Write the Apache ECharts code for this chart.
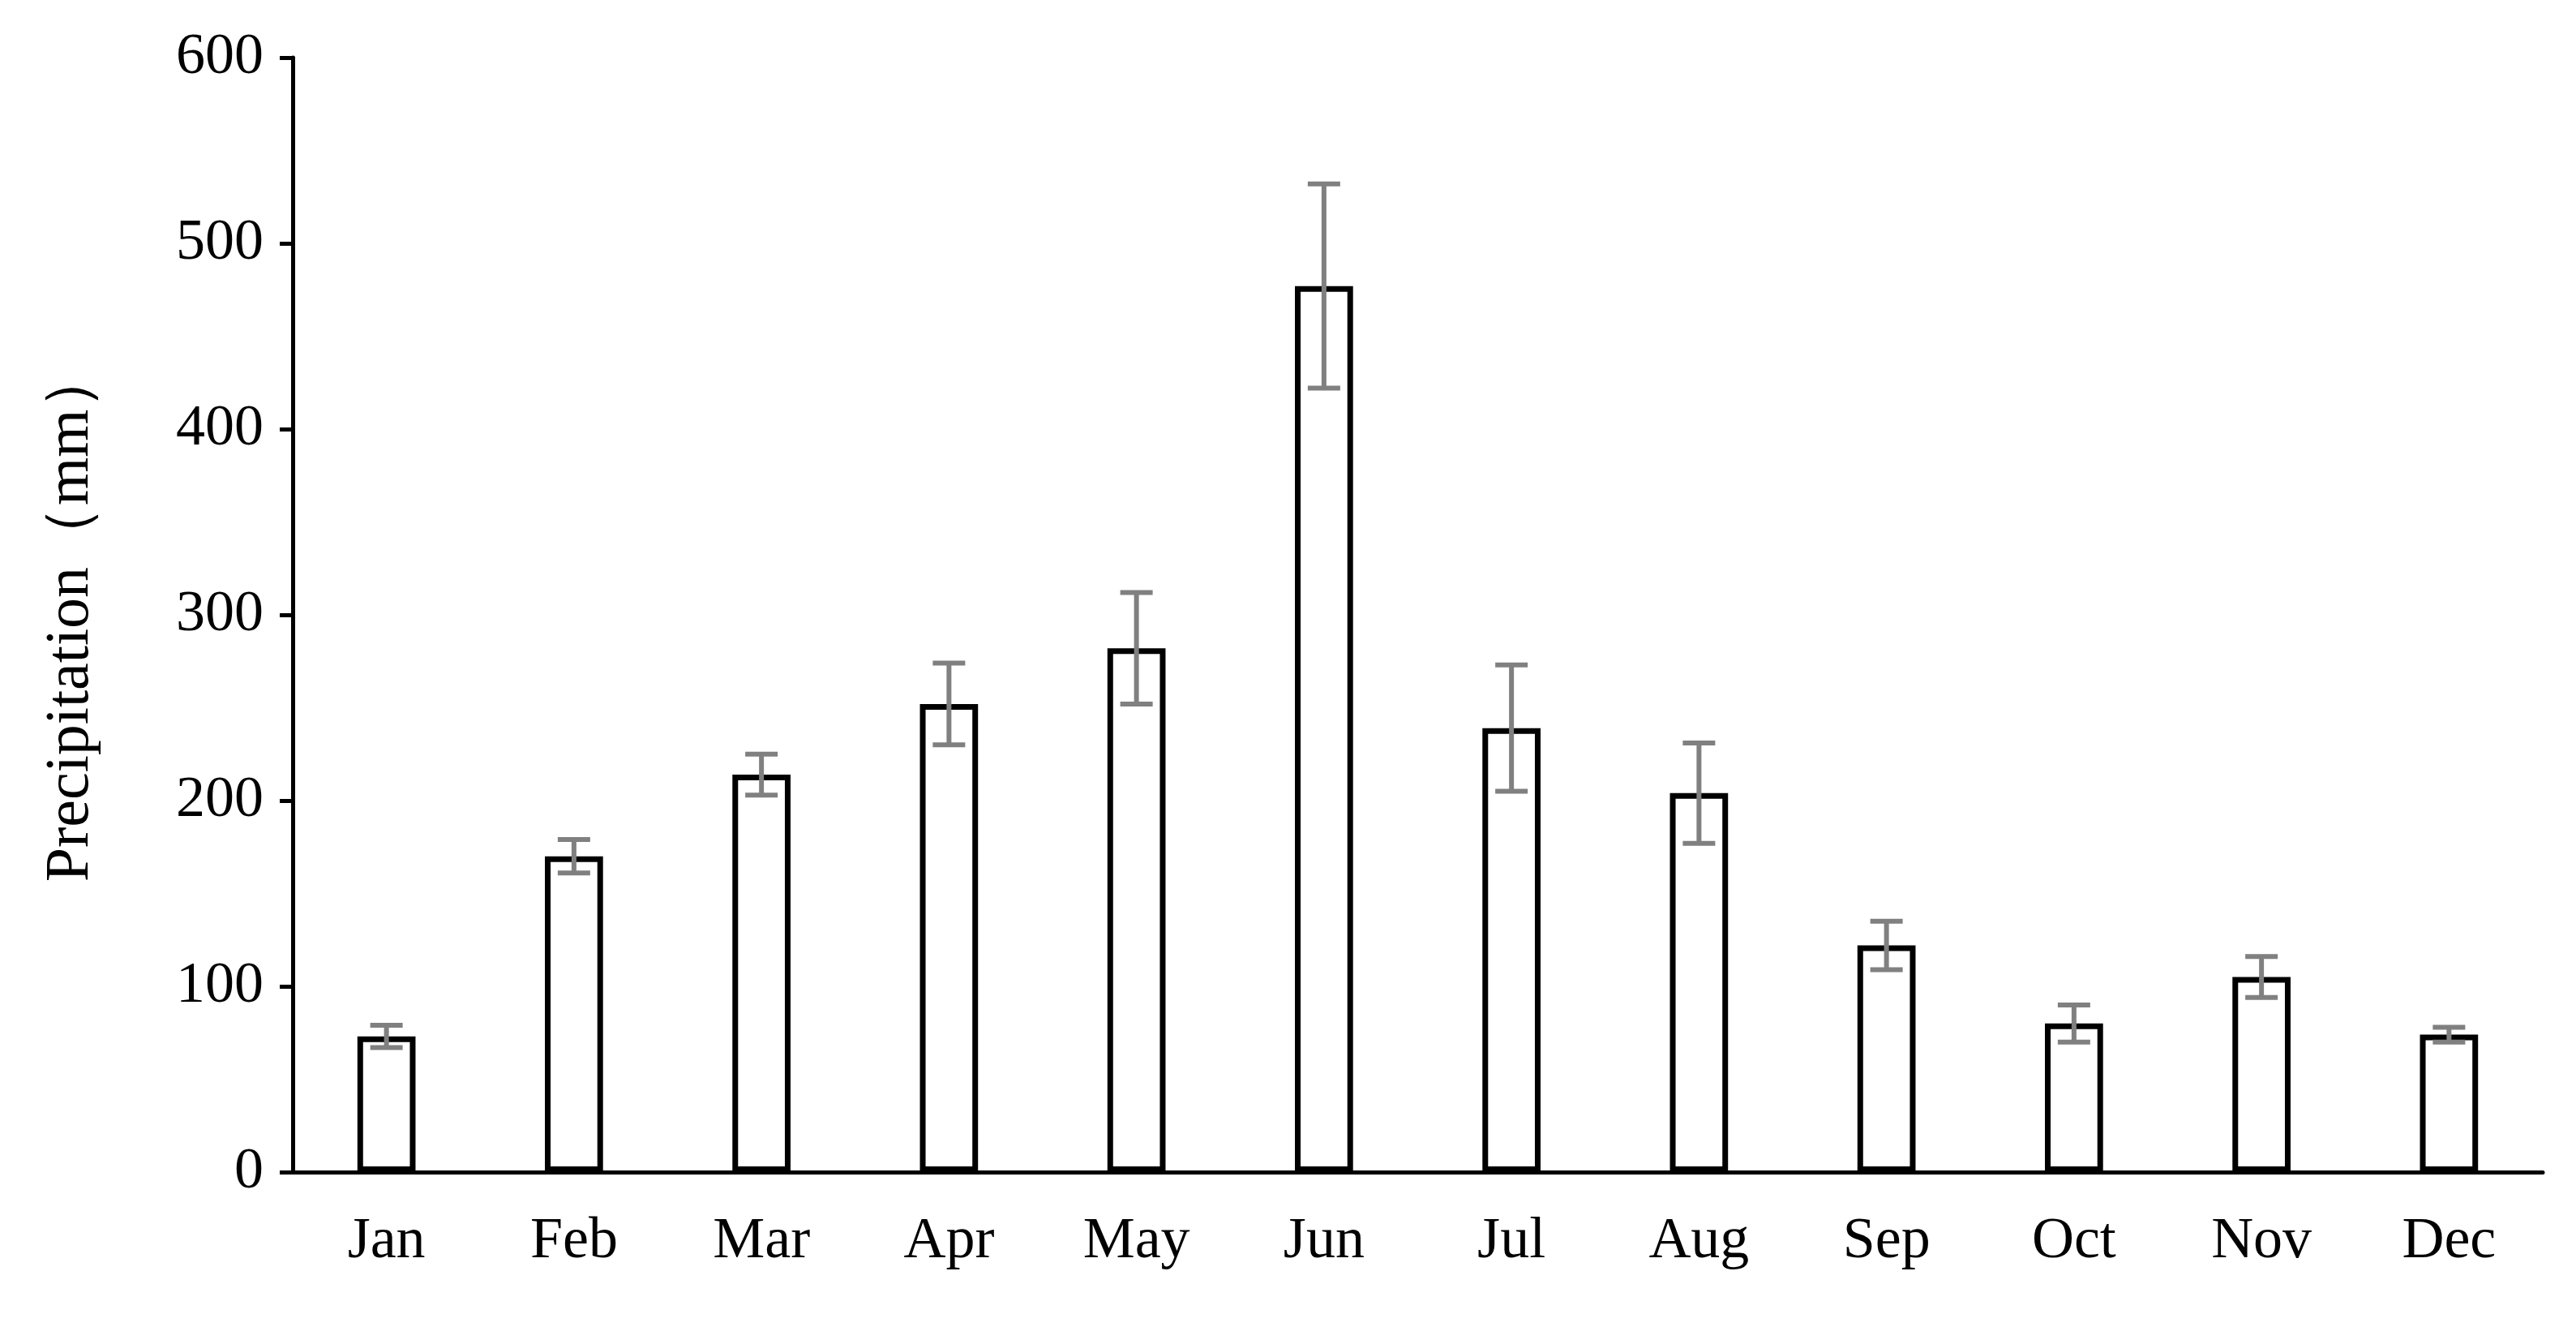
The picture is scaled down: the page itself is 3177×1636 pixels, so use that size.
<!DOCTYPE html>
<html>
<head>
<meta charset="utf-8">
<script src="https://cdn.jsdelivr.net/npm/echarts@6/dist/echarts.min.js"></script>
<style>html,body{margin:0;padding:0;background:#fff;}#main{width:3177px;height:1636px;}</style>
</head>
<body>
<div id="main"></div>
<script>
var months = ['Jan','Feb','Mar','Apr','May','Jun','Jul','Aug','Sep','Oct','Nov','Dec'];
var precip = [73, 170, 214, 252, 282, 477, 239, 204, 122, 80, 105, 74];
var errs = [6, 9, 11, 22, 30, 55, 34, 27, 13, 10, 11, 4];
var yTicks = [0, 100, 200, 300, 400, 500, 600];

var chart = echarts.init(document.getElementById('main'));
var font = 'Liberation Serif';
var errData = months.map(function (m, i) {
    return [i, precip[i] - errs[i], precip[i] + errs[i]];
});

var option = {
    animation: false,
    grid: { left: 361, right: 41, top: 71, bottom: 191, containLabel: false },
    xAxis: {
        type: 'category',
        data: months,
        boundaryGap: true,
        axisLine: { lineStyle: { color: '#000', width: 5 } },
        axisTick: { alignWithLabel: true, length: 14, lineStyle: { color: '#000', width: 5 } },
        axisLabel: { color: '#000', fontFamily: font, fontSize: 72, margin: 50 }
    },
    yAxis: {
        type: 'value',
        min: yTicks[0],
        max: yTicks[yTicks.length - 1],
        interval: 100,
        name: 'Precipitation\uff08mm\uff09',
        nameLocation: 'middle',
        nameGap: 235,
        nameTextStyle: { color: '#000', fontFamily: font, fontSize: 76 },
        axisLine: { show: true, lineStyle: { color: '#000', width: 5 } },
        axisTick: { show: true, length: 16, lineStyle: { color: '#000', width: 5 } },
        axisLabel: { color: '#000', fontFamily: font, fontSize: 72, margin: 36 },
        splitLine: { show: false }
    },
    series: [
        {
            type: 'bar',
            data: precip,
            barWidth: '31%',
            itemStyle: { color: '#fff', borderColor: '#000', borderWidth: 7 }
        },
        {
            type: 'custom',
            data: errData,
            z: 10,
            renderItem: function (params, api) {
                var lo = api.coord([api.value(0), api.value(1)]);
                var hi = api.coord([api.value(0), api.value(2)]);
                var hw = 20;
                var st = { stroke: '#808080', lineWidth: 6 };
                return {
                    type: 'group',
                    children: [
                        { type: 'line', shape: { x1: lo[0], y1: lo[1], x2: hi[0], y2: hi[1] }, style: st },
                        { type: 'line', shape: { x1: lo[0] - hw, y1: lo[1], x2: lo[0] + hw, y2: lo[1] }, style: st },
                        { type: 'line', shape: { x1: hi[0] - hw, y1: hi[1], x2: hi[0] + hw, y2: hi[1] }, style: st }
                    ]
                };
            }
        }
    ]
};
chart.setOption(option);
</script>
</body>
</html>
